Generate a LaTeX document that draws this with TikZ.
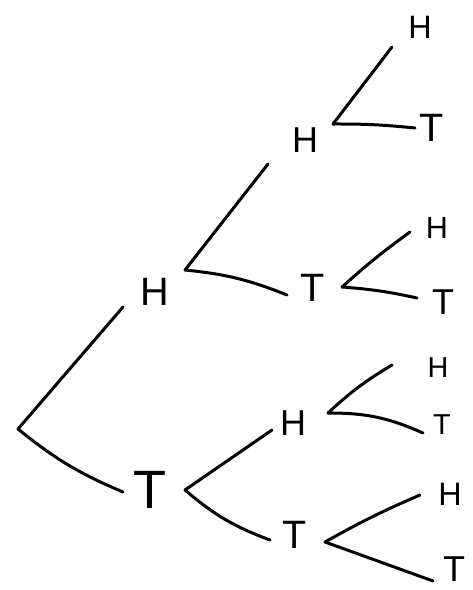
\documentclass[tikz,border=0pt]{standalone}
\usepackage{fontspec}
\setsansfont{Liberation Sans}
\begin{document}
\begin{tikzpicture}[x=1pt,y=-1pt,
    flip/.style={font=\sffamily\fontsize{36}{36}\selectfont, inner sep=0pt},
    branch/.style={line width=3pt, line cap=round, line join=round}]
    \useasboundingbox (0,0) rectangle (473,590);
    % first toss
    \coordinate (root) at (18,429);
    \node[flip, scale=1.1] (h) at (155,292) {H};
    \node[flip, scale=1.5] (t) at (150,490) {T};
    % second toss
    \node[flip] (hh) at (305,140) {H};
    \node[flip, scale=1.1] (ht) at (313,288) {T};
    \node[flip] (th) at (293,423) {H};
    \node[flip, scale=1.1] (tt) at (295,535) {T};
    % third toss
    \node[flip, scale=0.9] (hhh) at (420,27) {H};
    \node[flip, scale=1.1] (hht) at (432,128) {T};
    \node[flip, scale=0.85] (hth) at (437,228) {H};
    \node[flip] (htt) at (443,302) {T};
    \node[flip, scale=0.8] (thh) at (438,368) {H};
    \node[flip, scale=0.8] (tht) at (442,425) {T};
    \node[flip, scale=0.9] (tth) at (450,494) {H};
    \node[flip] (ttt) at (454,569) {T};
    % branch ends
    \coordinate (h-in) at (123,307);
    \coordinate (t-in) at (123,492);
    \coordinate (h-out) at (185,270);
    \coordinate (t-out) at (185,490);
    \coordinate (hh-in) at (268,164);
    \coordinate (ht-in) at (287,295);
    \coordinate (th-in) at (272,430);
    \coordinate (tt-in) at (270,540);
    \coordinate (hh-out) at (333,124);
    \coordinate (ht-out) at (342,287);
    \coordinate (th-out) at (328,413);
    \coordinate (tt-out) at (325,542);
    \coordinate (hhh-in) at (392,47);
    \coordinate (hht-in) at (415,128);
    \coordinate (hth-in) at (410,232);
    \coordinate (htt-in) at (417,298);
    \coordinate (thh-in) at (392,365);
    \coordinate (tht-in) at (423,433);
    \coordinate (tth-in) at (420,495);
    \coordinate (ttt-in) at (433,581);
    % branches
    \foreach \a/\b/\c in {root/h-in/0, root/t-in/-8, h-out/hh-in/0, h-out/ht-in/8,
        t-out/th-in/0, t-out/tt-in/-10, hh-out/hhh-in/0, hh-out/hht-in/3,
        ht-out/hth-in/3, ht-out/htt-in/4, th-out/thh-in/6, th-out/tht-in/12,
        tt-out/tth-in/3, tt-out/ttt-in/0} {
        \draw[branch] (\a) to[bend left=\c] (\b);
    }
\end{tikzpicture}
\end{document}
